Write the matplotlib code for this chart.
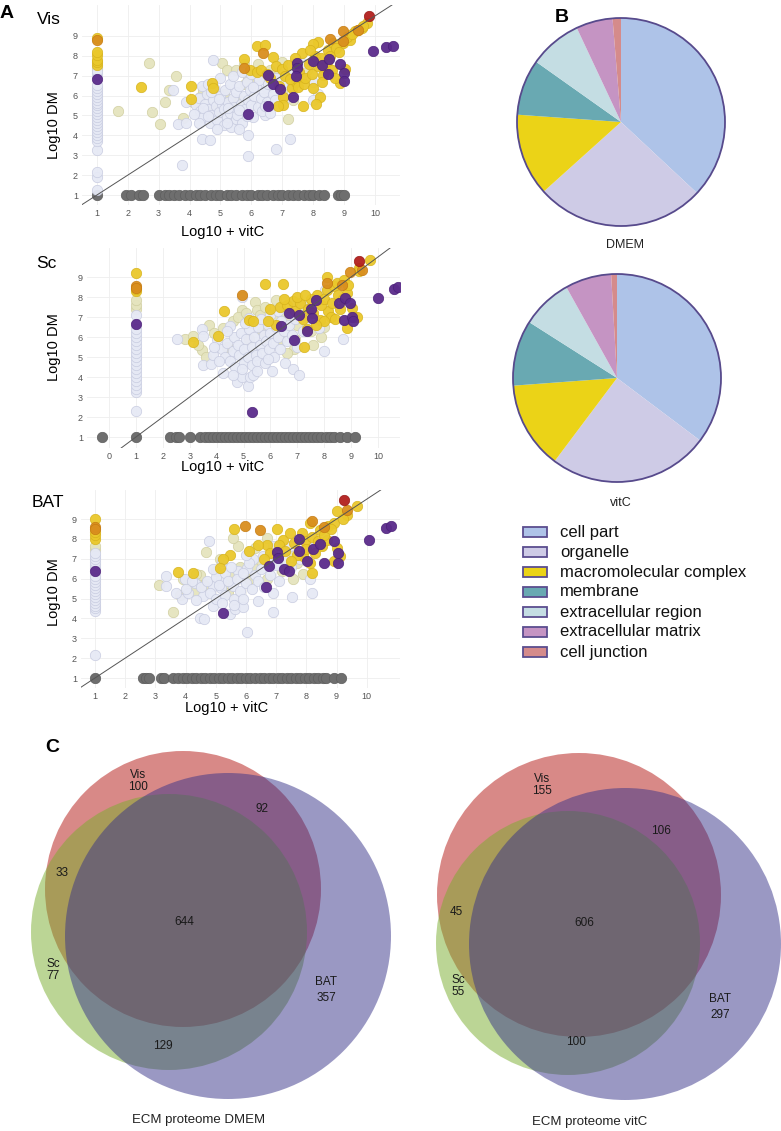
import numpy as np
import matplotlib
matplotlib.use('Agg')
import matplotlib.pyplot as plt
from matplotlib.patches import Circle, Rectangle

plt.rcParams['font.family'] = ['Liberation Sans', 'DejaVu Sans']

W, H = 781, 1131

# ---------------- data: scatter panels (x = Log10 + vitC, y = Log10 DM) ----------------
vis_grey_x = [1.0, 1.95, 2.1, 2.35, 2.5, 3.0, 3.2, 3.35, 3.5, 3.65, 3.85, 4.0, 4.2, 4.35, 4.5, 4.7,
              4.85, 5.0, 5.2, 5.35, 5.5, 5.7, 5.85, 6.0, 6.2, 6.35, 6.5, 6.7, 6.85, 7.0, 7.2, 7.35,
              7.5, 7.7, 7.85, 8.0, 8.2, 8.35, 8.8, 8.9, 9.0]
vis_light = [(1, 1.25), (1, 1.9), (1, 2.15), (1, 3.25), (1, 3.7), (1, 3.85), (1, 4.0), (1, 4.15),
             (1, 4.3), (1, 4.45), (1, 4.6), (1, 4.75), (1, 4.9), (1, 5.05), (1, 5.2), (1, 5.35),
             (1, 5.5), (1, 5.65), (1, 5.8), (1, 5.95), (1, 6.1), (1, 6.25), (1, 6.4), (1, 6.55),
             (1, 7.1), (1, 7.25),
             (4.77, 7.8), (5.9, 4.0), (5.9, 2.98), (3.75, 2.5), (4.4, 3.8), (4.65, 3.77), (3.64, 4.56),
             (3.89, 4.6), (3.46, 6.3), (3.9, 5.66), (6.8, 3.3), (7.25, 3.8), (6.44, 5.03), (8.0, 6.7),
             (8.17, 6.08), (8.0, 5.78), (7.63, 7.63), (6.5, 6.4), (7.0, 6.6), (7.3, 7.1), (7.45, 7.5),
             (8.1, 7.9),
             (4.2, 5.5), (4.3, 5.9), (4.35, 5.2), (4.45, 4.9), (4.5, 5.6), (4.55, 6.1), (4.6, 5.3),
             (4.65, 4.6), (4.7, 5.0), (4.75, 5.8), (4.8, 6.4), (4.85, 5.45), (4.9, 4.75), (4.95, 5.15),
             (5.0, 6.0), (5.05, 5.6), (5.1, 4.5), (5.1, 5.3), (5.15, 6.3), (5.2, 4.9), (5.25, 5.7),
             (5.3, 6.6), (5.3, 5.1), (5.35, 4.4), (5.4, 5.9), (5.45, 5.4), (5.5, 6.2), (5.5, 4.8),
             (5.55, 5.0), (5.6, 6.5), (5.65, 5.6), (5.7, 4.6), (5.75, 6.0), (5.8, 5.3), (5.85, 6.7),
             (5.9, 5.8), (5.95, 6.3), (6.0, 5.5), (6.05, 4.9), (6.1, 6.0), (6.15, 6.5), (6.2, 5.4),
             (6.25, 6.8), (6.3, 5.9), (6.35, 5.2), (6.4, 6.2), (6.5, 5.7), (6.55, 6.6), (6.6, 5.1),
             (6.7, 6.1), (6.75, 5.8), (4.4, 6.5), (4.6, 6.6), (5.0, 6.9), (5.4, 7.0), (5.7, 7.2),
             (6.0, 7.1), (4.9, 4.3), (5.6, 4.3), (5.2, 4.6), (4.3, 4.6), (6.8, 6.9), (7.1, 5.9),
             (4.45, 5.35), (4.7, 6.2), (4.95, 5.85), (5.25, 5.35), (5.6, 5.25), (5.85, 4.95),
             (6.05, 6.45), (6.45, 5.45), (4.15, 5.05), (4.6, 4.95)]
vis_khaki = [(1, 7.35), (1, 7.45), (1.67, 5.24), (2.69, 7.63), (2.78, 5.16), (3.03, 4.56), (3.2, 5.66),
             (3.32, 6.3), (3.56, 6.97), (3.8, 4.86), (4.34, 5.95), (5.04, 7.63), (7.2, 4.8), (7.36, 5.78),
             (4.1, 5.7), (4.45, 6.3), (5.2, 7.3), (5.5, 7.3), (5.75, 7.6), (5.9, 6.9), (6.2, 7.6),
             (6.3, 7.0), (6.6, 7.3), (6.9, 7.1), (7.0, 6.2), (7.3, 6.5), (7.6, 6.9), (7.8, 7.3),
             (5.6, 5.8), (6.0, 6.6), (6.4, 5.4), (4.8, 5.2), (5.3, 5.8), (5.1, 6.1), (7.0, 7.7),
             (7.4, 7.0), (6.7, 6.8), (5.8, 6.6)]
vis_yellow = [(1, 7.55), (1, 7.7), (1, 7.8), (1, 8.05), (1, 8.2), (1, 8.9), (2.42, 6.42), (4.04, 6.49),
              (4.04, 5.85), (4.72, 6.62), (4.77, 6.37), (6.17, 8.5), (6.44, 8.55), (5.77, 7.83),
              (6.69, 7.93), (5.96, 7.3), (6.17, 7.2), (7.03, 5.95), (7.03, 5.53), (6.87, 5.48),
              (7.66, 5.45), (8.22, 5.95), (7.63, 8.13), (8.17, 8.67), (8.49, 8.3), (8.65, 8.63),
              (8.97, 8.63), (9.19, 8.8), (9.35, 9.22), (9.57, 9.4), (9.73, 9.64), (8.87, 6.62),
              (8.38, 7.37), (8.33, 7.04), (9.03, 7.33), (6.3, 7.3), (6.5, 7.1), (6.8, 7.5), (7.0, 7.35),
              (7.1, 7.0), (7.2, 7.55), (7.3, 6.4), (7.45, 6.7), (7.5, 6.45), (7.55, 7.2), (7.7, 6.6),
              (7.75, 6.9), (7.85, 7.6), (7.95, 7.1), (8.0, 6.4), (8.05, 8.0), (8.15, 7.5), (8.25, 7.9),
              (8.3, 6.7), (8.45, 7.7), (8.55, 8.0), (8.6, 7.3), (8.75, 8.4), (8.85, 8.2), (9.1, 8.95),
              (9.25, 9.1), (9.45, 9.3), (9.6, 9.5), (8.0, 8.6), (7.4, 7.9), (6.6, 6.9), (6.9, 6.5),
              (7.25, 6.85), (8.7, 6.9), (8.1, 5.6), (7.9, 8.3)]
vis_orange = [(1, 8.8), (6.37, 8.16), (5.77, 7.38), (8.54, 8.84), (8.97, 9.22), (8.97, 8.72), (9.46, 9.27)]
vis_red = [(9.81, 10.0)]
vis_purple = [(1, 6.84), (5.9, 5.06), (6.55, 7.04), (6.55, 5.45), (6.69, 6.57), (6.93, 6.32), (7.36, 5.92),
              (7.47, 7.66), (7.49, 7.38), (7.44, 6.96), (7.98, 7.76), (8.3, 7.54), (8.52, 7.83),
              (8.49, 7.09), (8.87, 7.59), (9.0, 7.12), (9.0, 6.74), (9.94, 8.25), (10.37, 8.42),
              (10.57, 8.47)]

sc_grey_x = [-0.25, 1.0, 2.27, 2.5, 2.6, 3.0, 3.4, 3.55, 3.7, 3.85, 4.0, 4.15, 4.3, 4.45, 4.6, 4.75,
             4.9, 5.05, 5.2, 5.35, 5.5, 5.65, 5.8, 5.95, 6.1, 6.25, 6.4, 6.55, 6.7, 6.85, 7.0, 7.15,
             7.3, 7.45, 7.6, 7.75, 7.9, 8.05, 8.2, 8.35, 8.6, 8.85, 9.15]
sc_light = [(1, 2.3), (1, 3.25), (1, 3.4), (1, 3.6), (1, 3.8), (1, 4.0), (1, 4.2), (1, 4.4), (1, 4.6),
            (1, 4.8), (1, 5.0), (1, 5.2), (1, 5.4), (1, 5.6), (1, 5.8), (1, 6.0), (1, 6.2), (1, 6.4),
            (1, 7.1),
            (2.52, 5.9), (3.45, 6.4), (3.51, 6.07), (3.51, 4.58), (3.78, 4.63), (3.88, 5.08), (4.23, 4.19),
            (4.75, 3.76), (4.93, 3.98), (5.15, 3.53), (5.25, 3.98), (5.35, 4.09), (6.05, 4.3),
            (6.55, 4.68), (6.84, 4.42), (7.08, 4.09), (4.5, 6.53), (4.94, 8.0), (6.88, 7.6), (7.98, 5.3),
            (8.04, 8.37), (8.7, 5.9), (7.79, 6.45),
            (4.2, 5.4), (4.3, 5.0), (4.4, 5.7), (4.5, 4.8), (4.6, 5.3), (4.65, 6.0), (4.7, 4.5),
            (4.8, 5.6), (4.85, 5.1), (4.9, 6.2), (5.0, 4.7), (5.0, 5.4), (5.1, 5.9), (5.15, 5.0),
            (5.2, 6.4), (5.3, 4.6), (5.3, 5.5), (5.4, 6.0), (5.45, 5.1), (5.5, 4.8), (5.55, 6.5),
            (5.6, 5.6), (5.7, 5.2), (5.75, 6.1), (5.8, 4.7), (5.85, 5.8), (5.9, 6.6), (5.95, 5.4),
            (6.0, 6.2), (6.1, 5.7), (6.15, 5.0), (6.2, 6.5), (6.3, 6.0), (6.35, 5.4), (6.4, 6.8),
            (6.5, 6.3), (6.6, 5.8), (6.7, 6.6), (6.8, 6.1), (4.0, 5.9), (3.9, 5.5), (4.4, 6.3),
            (5.05, 6.7), (5.65, 6.9), (6.0, 7.1), (6.3, 7.3), (4.6, 4.1), (5.5, 4.3), (5.9, 4.9),
            (4.95, 4.4), (4.1, 4.8), (5.2, 6.95), (6.9, 6.9), (7.2, 6.3), (7.4, 6.7), (7.0, 5.5)]
sc_khaki = [(1, 7.4), (1, 7.6), (1, 7.85), (2.83, 5.92), (3.14, 6.07), (3.45, 5.34), (3.71, 6.6),
            (4.23, 6.45), (4.94, 7.35), (5.43, 7.76), (5.5, 7.35), (6.22, 7.85), (6.34, 5.9), (6.86, 5.38),
            (7.88, 6.0), (3.3, 5.6), (3.6, 5.0), (3.9, 6.2), (4.6, 6.8), (4.8, 7.0), (5.1, 7.2),
            (5.3, 6.7), (5.6, 7.1), (5.8, 7.5), (6.1, 6.9), (6.5, 7.2), (6.7, 7.0), (7.0, 6.6),
            (7.3, 7.1), (7.5, 6.3), (7.6, 5.6), (4.4, 5.5), (5.2, 5.9), (5.7, 6.3), (6.6, 5.2),
            (6.9, 5.9), (7.2, 7.6), (8.0, 6.5)]
sc_yellow = [(1, 8.3), (1, 8.4), (1, 9.2), (3.14, 5.74), (4.07, 6.03), (4.28, 7.32), (5.8, 8.64),
             (6.46, 8.64), (5.19, 6.86), (5.37, 6.81), (6.34, 7.48), (6.61, 7.6), (6.84, 7.81),
             (7.26, 5.51), (8.12, 9.0), (8.1, 8.37), (8.35, 8.54), (8.47, 8.7), (8.72, 8.84), (8.85, 8.18),
             (9.03, 7.44), (9.1, 6.99), (8.85, 6.45), (9.22, 6.99), (9.69, 9.86), (9.28, 9.46),
             (7.73, 8.09), (8.16, 7.32), (8.25, 7.02), (7.85, 6.86), (7.98, 6.78), (6.9, 7.3), (7.1, 7.7),
             (7.2, 6.9), (7.4, 7.4), (7.5, 7.9), (7.6, 7.2), (7.7, 6.6), (7.9, 7.6), (8.0, 7.9),
             (8.3, 7.7), (8.5, 8.1), (8.6, 7.4), (8.7, 7.9), (6.2, 6.6), (6.0, 7.4), (5.9, 6.8),
             (7.35, 6.4), (8.4, 6.9), (8.9, 8.6), (9.3, 9.3), (6.5, 7.9), (7.0, 8.0), (7.3, 8.1)]
sc_orange = [(1, 8.55), (1, 8.45), (8.97, 9.25), (9.4, 9.36), (8.1, 8.7), (4.94, 8.1), (8.65, 8.6)]
sc_red = [(9.28, 9.79)]
sc_purple = [(1, 6.66), (5.32, 2.25), (6.39, 6.56), (6.71, 7.19), (6.88, 5.84), (7.05, 7.1), (7.36, 6.28),
             (7.5, 7.4), (7.54, 6.94), (7.7, 7.85), (8.54, 7.72), (8.78, 7.93), (8.95, 7.68), (8.72, 6.86),
             (9.03, 6.99), (9.07, 6.78), (9.99, 7.93), (10.58, 8.42), (10.73, 8.5)]

bat_grey_x = [1.0, 2.6, 2.7, 2.8, 3.2, 3.3, 3.6, 3.75, 3.9, 4.05, 4.2, 4.35, 4.5, 4.65, 4.8, 4.95,
              5.1, 5.25, 5.4, 5.55, 5.7, 5.85, 6.0, 6.15, 6.3, 6.45, 6.6, 6.75, 6.9, 7.05, 7.2, 7.35,
              7.5, 7.65, 7.8, 7.95, 8.1, 8.25, 8.4, 8.55, 8.65, 8.9, 9.15]
bat_light = [(1, 2.15), (1, 4.35), (1, 4.5), (1, 4.65), (1, 4.8), (1, 4.95), (1, 5.1), (1, 5.25),
             (1, 5.4), (1, 5.55), (1, 5.7), (1, 5.85), (1, 6.0), (1, 6.15), (1, 6.55), (1, 6.7),
             (1, 6.85), (1, 7.0), (1, 7.15), (1, 7.3),
             (3.37, 6.13), (3.98, 5.97), (4.78, 7.88), (3.87, 4.97), (4.09, 5.3), (4.31, 5.8), (4.58, 5.13),
             (4.92, 5.63), (5.19, 5.97), (5.58, 5.63), (5.75, 6.38), (6.02, 6.55), (6.24, 6.97),
             (6.58, 7.13), (6.9, 7.63), (7.18, 7.38), (7.46, 7.63), (8.12, 7.55), (8.12, 5.97),
             (8.18, 5.3), (7.52, 5.08), (6.88, 4.33), (3.37, 5.62), (4.36, 4.95), (4.47, 4.03),
             (4.62, 3.95), (5.19, 5.53), (5.47, 4.2), (5.63, 4.45), (5.91, 4.58), (6.02, 3.33),
             (4.92, 4.62),
             (4.5, 5.6), (4.7, 5.9), (4.8, 5.3), (5.0, 6.1), (5.0, 5.0), (5.1, 5.7), (5.3, 6.3),
             (5.3, 5.2), (5.4, 5.9), (5.5, 6.6), (5.6, 5.0), (5.7, 6.0), (5.8, 5.4), (5.9, 6.3),
             (6.0, 5.8), (6.1, 6.8), (6.2, 5.5), (6.3, 6.2), (6.4, 5.9), (6.5, 6.5), (6.6, 5.6),
             (6.7, 6.9), (6.8, 6.2), (7.0, 6.7), (7.1, 5.9), (7.3, 7.0), (5.2, 4.8), (5.6, 4.7),
             (4.2, 5.9), (4.0, 5.5), (6.4, 4.9), (6.9, 5.3), (7.5, 6.6), (7.8, 7.0), (4.9, 6.5),
             (5.2, 6.9), (6.0, 7.2), (3.7, 5.3), (5.9, 5.0)]
bat_khaki = [(1, 7.45), (1, 7.63), (3.12, 5.67), (3.59, 4.3), (3.81, 5.17), (4.47, 6.17), (4.69, 7.33),
             (5.14, 7.0), (5.75, 7.63), (5.58, 8.05), (6.3, 7.55), (6.69, 8.05), (7.9, 6.22), (7.57, 5.97),
             (6.24, 6.63), (4.36, 6.22), (4.1, 5.9), (4.6, 5.7), (5.0, 6.4), (5.3, 5.6), (5.5, 6.1),
             (5.8, 6.6), (6.1, 6.0), (6.5, 6.9), (6.9, 7.2), (7.2, 6.4), (7.4, 7.3), (7.7, 6.8),
             (3.9, 6.0), (4.3, 5.4), (5.4, 5.3), (6.7, 6.0), (7.0, 7.6)]
bat_yellow = [(1, 8.0), (1, 8.2), (1, 8.35), (1, 9.0), (3.75, 6.33), (4.25, 6.3), (5.61, 8.52), (7.02, 8.52),
              (5.47, 7.17), (5.25, 7.0), (5.14, 6.55), (6.69, 7.67), (6.8, 7.3), (7.24, 7.97), (7.46, 8.3),
              (7.85, 8.3), (7.9, 7.13), (8.12, 6.8), (8.46, 8.47), (8.73, 8.63), (8.9, 8.8), (9.01, 9.38),
              (9.34, 9.22), (9.67, 9.67), (8.9, 6.88), (9.12, 7.13), (9.01, 7.55), (8.51, 7.63),
              (8.68, 7.97), (8.12, 8.8), (7.1, 7.7), (7.3, 7.4), (7.6, 7.8), (7.7, 7.2), (7.95, 7.9),
              (8.2, 8.1), (8.3, 7.3), (8.4, 7.9), (8.6, 8.2), (8.8, 8.5), (6.4, 7.7), (6.1, 7.4),
              (6.6, 7.0), (7.5, 6.9), (8.0, 7.5), (9.2, 9.0), (8.2, 6.3)]
bat_orange = [(1, 8.6), (1, 8.5), (5.97, 8.67), (6.46, 8.43), (8.18, 8.88), (9.34, 9.47), (8.6, 8.6)]
bat_red = [(9.26, 9.97)]
bat_purple = [(1, 6.38), (5.23, 4.25), (6.65, 5.6), (6.77, 6.63), (7.02, 7.33), (7.07, 7.05), (7.26, 6.47),
              (7.44, 6.38), (7.74, 8.0), (7.74, 7.38), (8.01, 6.88), (8.23, 7.5), (8.46, 7.72),
              (8.59, 6.77), (8.93, 7.88), (9.06, 7.27), (9.06, 6.8), (10.06, 7.93), (10.65, 8.55),
              (10.8, 8.67)]

# ---------------- data: pies ----------------
go_terms = ['cell part', 'organelle', 'macromolecular complex', 'membrane',
            'extracellular region', 'extracellular matrix', 'cell junction']
dmem_share = [37.0, 26.4, 12.8, 8.7, 8.2, 5.7, 1.3]
vitc_share = [35.3, 25.0, 13.6, 10.2, 7.9, 7.2, 0.9]
pie_colors = ['#aec3e8', '#cecbe6', '#ebd317', '#69a9b2', '#c4dde3', '#c594c3', '#d58b8b']

# ---------------- data: venn counts ----------------
venn_regions = ['Vis', 'Sc', 'BAT', 'Vis&Sc', 'Vis&BAT', 'Sc&BAT', 'all']
dmem_counts = [100, 77, 357, 33, 92, 129, 644]
vitc_counts = [155, 55, 297, 45, 106, 100, 606]

# ---------------- style ----------------
colors = {
    'grey': ('#6e6e6e', '#5e5e5e'),
    'light': ('#e6e9f5', '#c6cadf'),
    'khaki': ('#e5e4be', '#cfcd9e'),
    'yellow': ('#eac82b', '#d6b21c'),
    'orange': ('#d98e1e', '#c57a10'),
    'red': ('#b21f1d', '#961512'),
    'purple': ('#5b2b8b', '#4a1f78'),
}


def px_rect(l, t, r, b):
    return [l / W, 1 - b / H, (r - l) / W, (b - t) / H]


def fx(x):
    return x / W


def fy(y):
    return 1 - y / H


fig = plt.figure(figsize=(W / 100, H / 100), dpi=100)


def scatter_panel(box, xlim, ylim, xticks, grey_x, groups):
    ax = fig.add_axes(px_rect(*box))
    ax.set_xlim(*xlim)
    ax.set_ylim(*ylim)
    for s in ax.spines.values():
        s.set_visible(False)
    ax.set_xticks(xticks)
    ax.set_yticks(range(1, 10))
    ax.tick_params(length=0, labelsize=6.5, colors='#555555', pad=3)
    ax.grid(True, color='#eeeeee', lw=0.6)
    ax.set_axisbelow(True)
    fc, ec = colors['grey']
    ax.scatter(grey_x, [1] * len(grey_x), s=56, c=fc, edgecolors=ec, linewidths=0.5, zorder=2)
    for name, pts in groups:
        fc, ec = colors[name]
        xs, ys = np.array(pts).T
        ax.scatter(xs, ys, s=56, c=fc, edgecolors=ec, linewidths=0.5, alpha=0.95, zorder=3)
    ax.axline((0, 0), slope=1, color='#555555', lw=0.7, zorder=5)
    return ax


scatter_panel((82, 5, 400, 205), (0.52, 10.81), (0.5, 10.55), range(1, 11), vis_grey_x,
              [('khaki', vis_khaki), ('light', vis_light), ('yellow', vis_yellow),
               ('orange', vis_orange), ('red', vis_red), ('purple', vis_purple)])
scatter_panel((87, 248, 400, 448), (-0.82, 10.82), (0.45, 10.45), range(0, 11), sc_grey_x,
              [('khaki', sc_khaki), ('light', sc_light), ('yellow', sc_yellow),
               ('orange', sc_orange), ('red', sc_red), ('purple', sc_purple)])
scatter_panel((81, 490, 400, 688), (0.54, 11.1), (0.5, 10.46), range(1, 11), bat_grey_x,
              [('khaki', bat_khaki), ('light', bat_light), ('yellow', bat_yellow),
               ('orange', bat_orange), ('red', bat_red), ('purple', bat_purple)])

# panel titles and axis labels
for name, x, y in [('Vis', 37, 20), ('Sc', 36, 264), ('BAT', 32, 503)]:
    fig.text(fx(x), fy(y), name, fontsize=12.5, ha='left', va='center')
for x, y in [(223, 232), (223, 467), (227, 708)]:
    fig.text(fx(x), fy(y), 'Log10 + vitC', fontsize=10.5, ha='center', va='center')
for x, y in [(54, 125), (54, 347), (54, 592)]:
    fig.text(fx(x), fy(y), 'Log10 DM', fontsize=10.5, ha='center', va='center', rotation=90)

fig.text(fx(0), fy(14), 'A', fontsize=14, fontweight='bold', ha='left', va='center')
fig.text(fx(555), fy(18), 'B', fontsize=14, fontweight='bold', ha='left', va='center')
fig.text(fx(45), fy(747), 'C', fontsize=14, fontweight='bold', ha='left', va='center')

# ---------------- pies ----------------
for share, (cx, cy), label, ly in [(dmem_share, (621, 122), 'DMEM', 245),
                                   (vitc_share, (617, 378), 'vitC', 503)]:
    r = 104 * 1.03
    ax = fig.add_axes(px_rect(cx - r, cy - r, cx + r, cy + r))
    ax.pie(share, colors=pie_colors, startangle=90, counterclock=False,
           wedgeprops=dict(linewidth=0))
    ax.add_patch(Circle((0, 0), 1, fill=False, ec='#574a8c', lw=1.3))
    ax.set_xlim(-1.03, 1.03)
    ax.set_ylim(-1.03, 1.03)
    ax.set_aspect('equal')
    ax.axis('off')
    fig.text(fx(cx + 4), fy(ly), label, fontsize=9, ha='center', va='center', color='#222222')

# legend
for i, (term, col) in enumerate(zip(go_terms, pie_colors)):
    yy = 532 + 20 * i
    fig.patches.append(Rectangle((fx(523), fy(yy + 5)), 24 / W, 10 / H, transform=fig.transFigure,
                                 facecolor=col, edgecolor='#5b4d8f', lw=1.3))
    fig.text(fx(560), fy(yy), term, fontsize=12, ha='left', va='center', color='#111111')

# ---------------- venn diagrams ----------------
axv = fig.add_axes([0, 0, 1, 1])
axv.set_xlim(0, W)
axv.set_ylim(H, 0)
axv.axis('off')
axv.set_zorder(-1)

venn_colors = ['#b31511', '#79ad2d', '#373389']
venn_layouts = [
    # circles (Vis, Sc, BAT) and label spots for each region
    dict(circles=[(183, 889, 138), (169, 932, 138), (228, 936, 163)],
         spots=[(138, 781), (53, 970), (326, 990), (62, 873), (262, 809), (163, 1046), (184, 922)],
         counts=dmem_counts, title='ECM proteome DMEM', title_xy=(199, 1120)),
    dict(circles=[(579, 895, 142), (568, 943, 132), (625, 944, 156)],
         spots=[(542, 785), (458, 986), (720, 1007), (456, 912), (661, 831), (576, 1042), (584, 923)],
         counts=vitc_counts, title='ECM proteome vitC', title_xy=(590, 1122)),
]
for lay in venn_layouts:
    for (cx, cy, r), col in zip(lay['circles'], venn_colors):
        axv.add_patch(Circle((cx, cy), r, facecolor=col, edgecolor='none', alpha=0.5))
    for region, n, (x, y) in zip(venn_regions, lay['counts'], lay['spots']):
        txt = f'{region}\n{n}' if region in ('Vis', 'Sc', 'BAT') else str(n)
        axv.text(x, y, txt, fontsize=8.5, ha='center', va='center', color='#1a1a1a',
                 linespacing=1.1 if region != 'BAT' else 1.45)
    axv.text(*lay['title_xy'], lay['title'], fontsize=9.5, ha='center', va='center', color='#222222')

fig.savefig('out.png', dpi=100)
